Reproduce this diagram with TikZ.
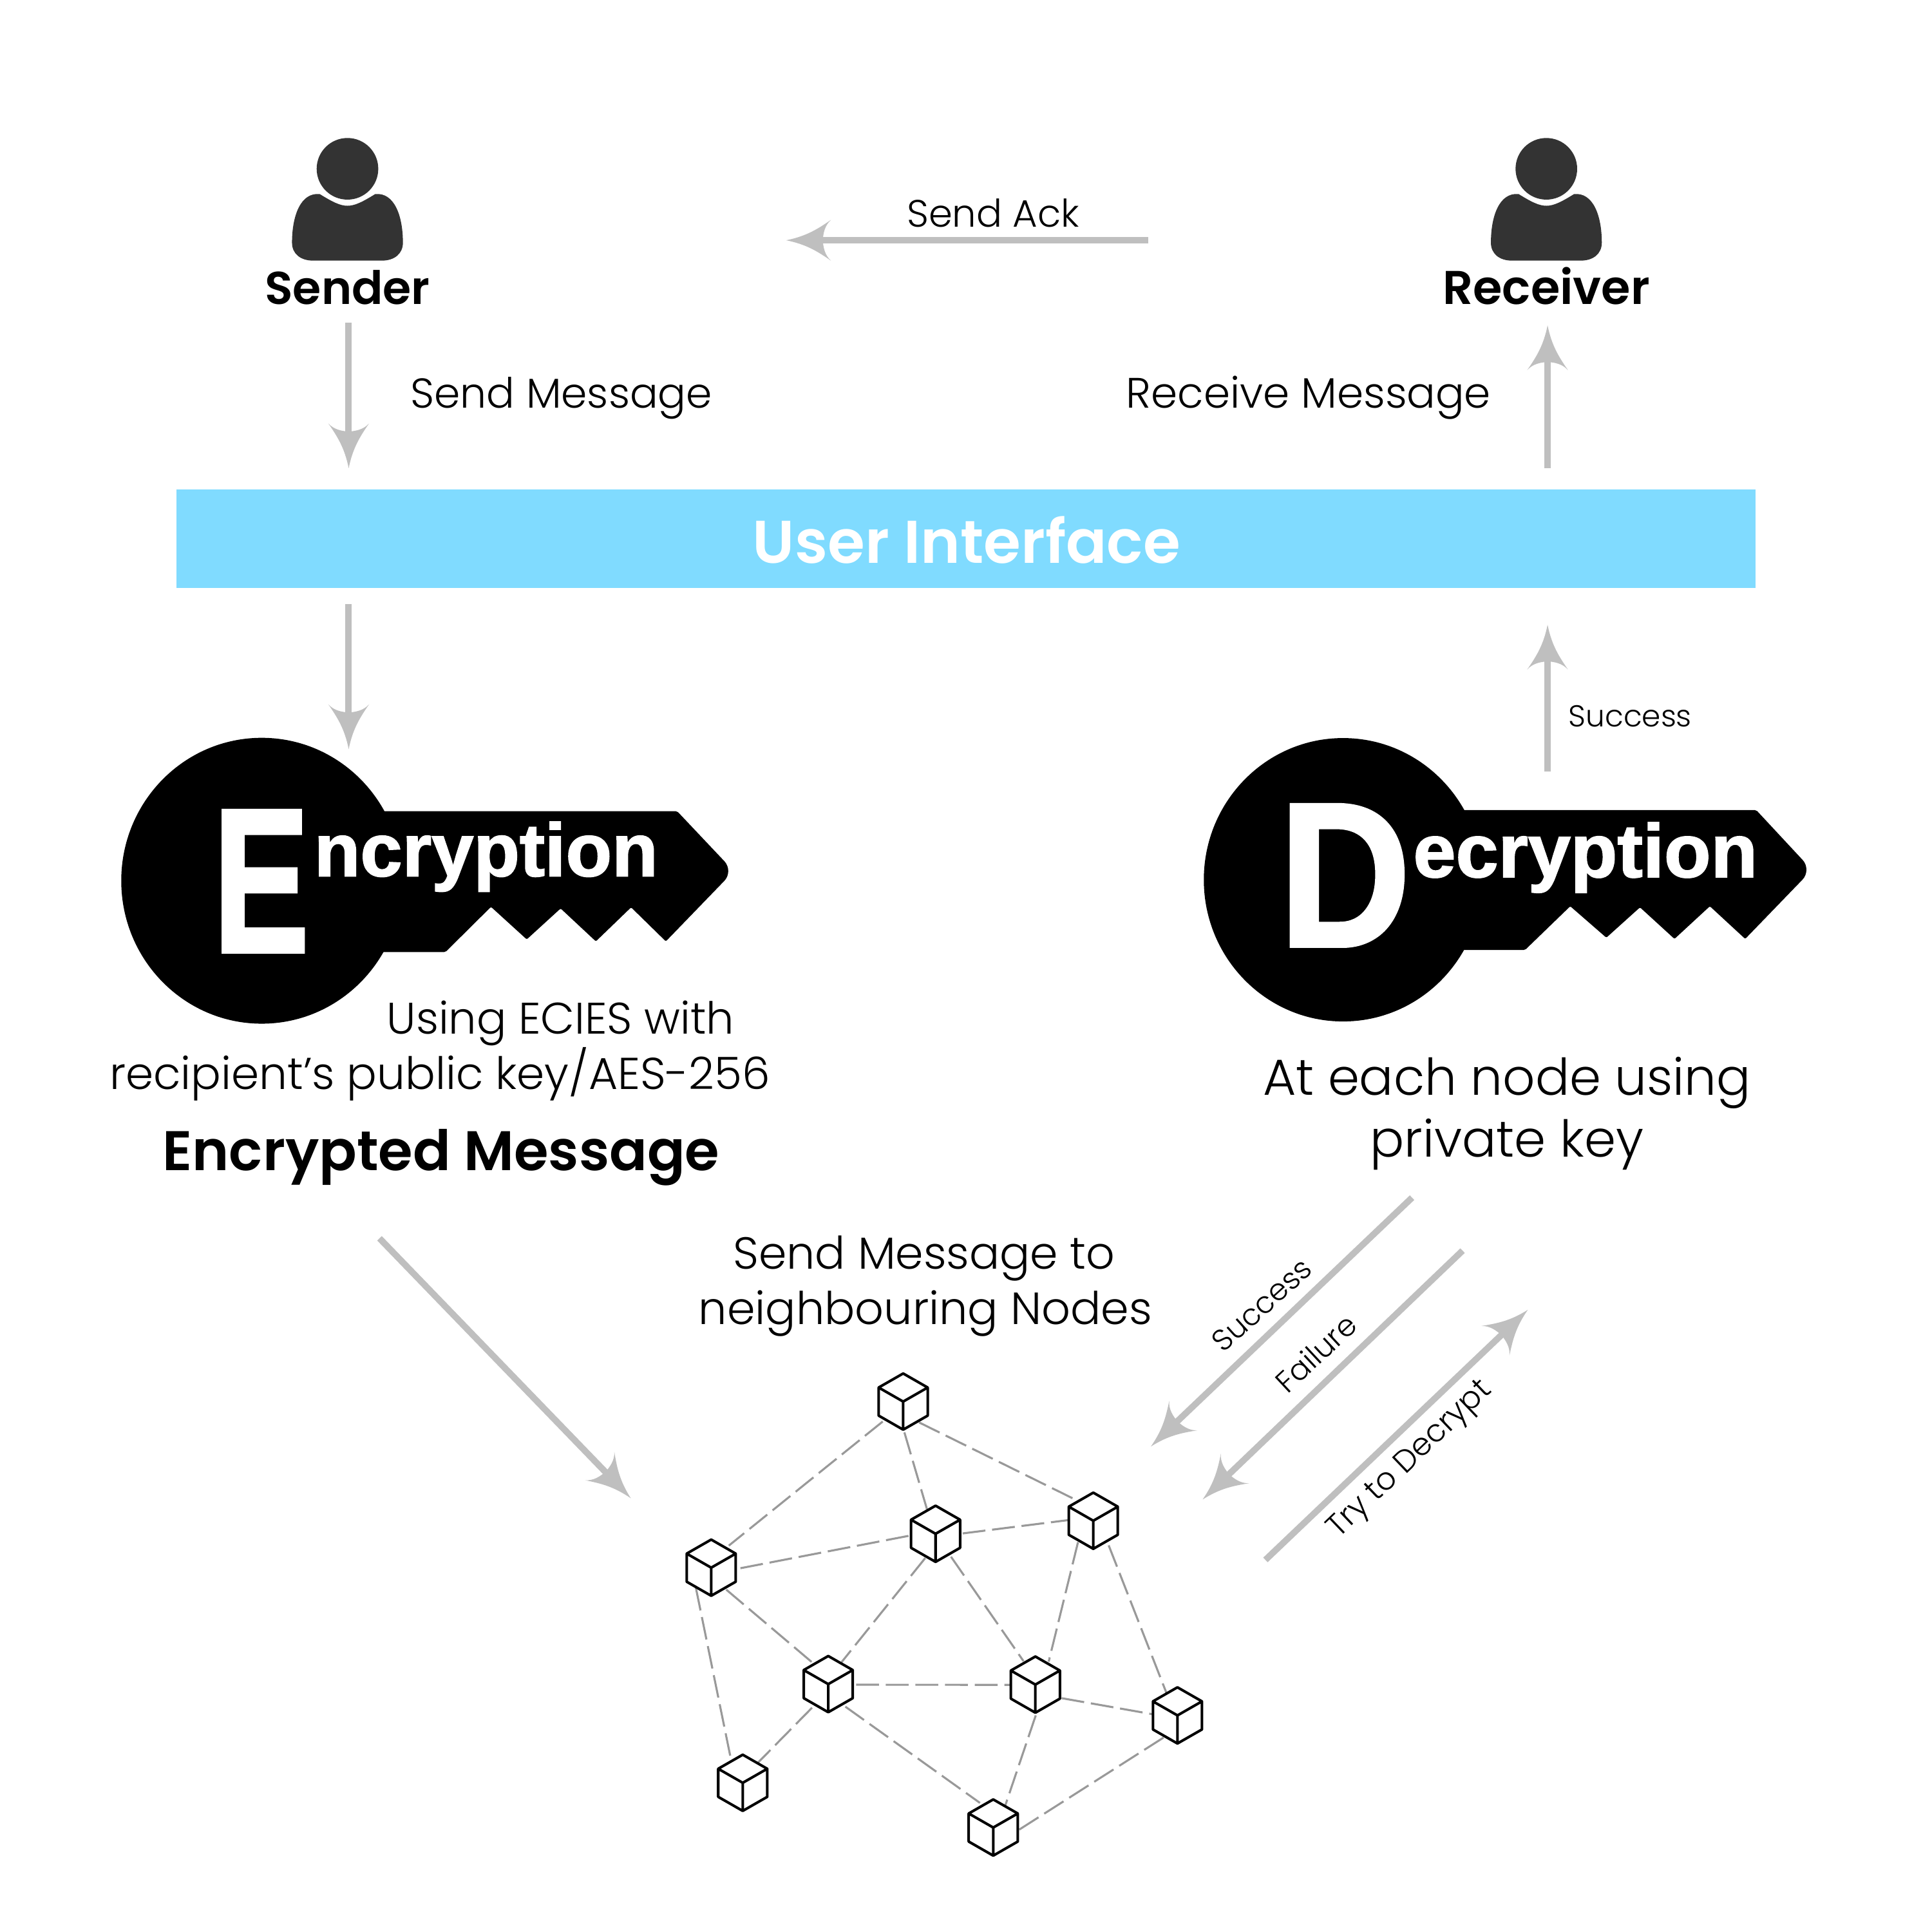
\documentclass[tikz,border=0pt]{standalone}
\usepackage{fontspec}
\usepackage{graphicx}
\usetikzlibrary{arrows.meta}
\setmainfont{Poppins Light}
\newfontfamily\ftbold{Poppins SemiBold}
\newfontfamily\ftlogo{Liberation Sans}[BoldFont={Liberation Sans Bold},BoldFeatures={FakeBold=1.6}]
\newdimen\uu \uu=0.5443pt
\newcommand\fitw[2]{\resizebox{#1\uu}{!}{#2}}
\definecolor{arrowgray}{HTML}{BFBFBF}
\definecolor{edgegray}{HTML}{999999}
\definecolor{banner}{HTML}{80DBFF}
\definecolor{persona}{HTML}{333333}
\pgfdeclarearrow{
  name=Barb,
  setup code={
    \pgfarrowssettipend{0pt}
    \pgfarrowssetlineend{-14pt}
    \pgfarrowssetvisualbackend{-16pt}
    \pgfarrowssetbackend{-19.8pt}
  },
  drawing code={
    \pgfsetfillcolor{arrowgray}
    \pgfpathmoveto{\pgfqpoint{0pt}{0pt}}
    \pgfpathcurveto{\pgfqpoint{-9pt}{1.8pt}}{\pgfqpoint{-14pt}{5pt}}{\pgfqpoint{-19.8pt}{9pt}}
    \pgfpathcurveto{\pgfqpoint{-17pt}{6.5pt}}{\pgfqpoint{-16.4pt}{3pt}}{\pgfqpoint{-16.2pt}{0pt}}
    \pgfpathcurveto{\pgfqpoint{-16.4pt}{-3pt}}{\pgfqpoint{-17pt}{-6.5pt}}{\pgfqpoint{-19.8pt}{-9pt}}
    \pgfpathcurveto{\pgfqpoint{-14pt}{-5pt}}{\pgfqpoint{-9pt}{-1.8pt}}{\pgfqpoint{0pt}{0pt}}
    \pgfpathclose
    \pgfusepathqfill
  }
}
\tikzset{
  conn/.style={color=arrowgray,line width=5.2\uu,-{Barb[]}},
  edge/.style={color=edgegray,line width=1.65\uu,dash pattern=on 10.1pt off 3pt},
  label/.style={inner sep=0pt,anchor=base},
  cubenode/.style={circle,minimum size=50\uu,inner sep=0pt,outer sep=0pt},
  cube/.pic={
    \draw[line width=2.1\uu,line join=round,black]
      (0,-22.8) -- (19.9,-11.4) -- (19.9,11.4) -- (0,22.8) -- (-19.9,11.4) -- (-19.9,-11.4) -- cycle
      (-19.9,-11.4) -- (0,0) -- (19.9,-11.4)
      (0,0) -- (0,22.8);
  },
  person/.pic={
    \fill[persona] (0,0) circle (25);
    \fill[persona] (-22.5,20.5) .. controls (-12,27) and (-6,30) .. (0,30)
      .. controls (6,30) and (12,27) .. (22.5,20.5)
      .. controls (38,19) and (45,38) .. (45,60)
      .. controls (45,69) and (38,74.5) .. (28,74.5)
      -- (-28,74.5)
      .. controls (-38,74.5) and (-45,69) .. (-45,60)
      .. controls (-45,38) and (-38,19) .. (-22.5,20.5) -- cycle;
  }
}
\begin{document}
\begin{tikzpicture}[x=0.5443pt,y=-0.5443pt]
\useasboundingbox (0,0) rectangle (1568,1568);
% people
\pic at (282,137) {person};
\pic at (1255,137) {person};
\node[label] (sender) at (282,247) {\fitw{134}{\ftbold Sender}};
\node[label] (receiver) at (1255,247) {\fitw{168}{\ftbold Receiver}};
% banner
\node[fill=banner,minimum width=1282\uu,minimum height=80\uu,inner sep=0pt] (ui) at (784,437) {};
\node[label,text=white] (uit) at (784.5,457) {\fitw{347}{\ftbold User Interface}};
% keys
\fill[black] (212.4,714.8) ellipse (114 and 116);
\fill[black,rounded corners=0.6] (300,658.4) -- (549.6,658.4) [rounded corners=6] -- (595.5,707) [rounded corners=0.6] -- (540.4,764) -- (512.2,736.4) -- (483.6,764) -- (455,737.3) -- (427.5,762.4) -- (398.5,736) -- (361.5,772.7) -- (300,772.7) -- cycle;
\node[inner sep=0pt,text=white] (ebig) at (212,715.2) {\resizebox*{78\uu}{115\uu}{\ftlogo\bfseries E}};
\node[inner sep=0pt,text=white] (encr) at (394.5,695.3) {\resizebox*{279\uu}{56.6\uu}{\ftlogo\bfseries ncryption}};
\fill[black] (1090,714) ellipse (113 and 115);
\fill[black,rounded corners=0.6] (1175,657.5) -- (1425.4,657.5) [rounded corners=6] -- (1470.5,706) [rounded corners=0.6] -- (1416.4,762) -- (1387.7,735.5) -- (1359,762) -- (1331,736.4) -- (1303.7,761) -- (1274.4,735.5) -- (1237.7,771) -- (1175,771) -- cycle;
\node[inner sep=0pt,text=white] (dbig) at (1091.5,710.5) {\resizebox*{107\uu}{115\uu}{\ftlogo\bfseries D}};
\node[inner sep=0pt,text=white] (decr) at (1286.7,696) {\resizebox*{279.4\uu}{57\uu}{\ftlogo\bfseries ecryption}};
% texts
\node[label] (ack) at (806,184) {\fitw{140}{Send Ack}};
\node[label] (sm) at (455.5,331) {\fitw{245}{Send Message}};
\node[label] (rm) at (1062,331) {\fitw{296}{Receive Message}};
\node[label] (succ1) at (1323,590) {\fitw{100}{Success}};
\node[label] (ecies) at (455,839) {\fitw{282}{Using ECIES with}};
\node[label] (pubkey) at (357,884) {\fitw{536}{recipient’s public key/AES-256}};
\node[label] (encm) at (358,950) {\fitw{452}{\ftbold Encrypted Message}};
\node[label] (each) at (1223,889) {\fitw{396}{At each node using}};
\node[label] (priv) at (1223,939) {\fitw{222}{private key}};
\node[label] (sm2) at (750,1030) {\fitw{310}{Send Message to}};
\node[label] (neigh) at (751,1075) {\fitw{368}{neighbouring Nodes}};
\node[inner sep=0pt,rotate=42] (succ2) at (1024,1059) {\fitw{99}{Success}};
\node[inner sep=0pt,rotate=43] (fail) at (1068,1098) {\fitw{79}{Failure}};
\node[inner sep=0pt,rotate=43.7] (try) at (1145,1185) {\fitw{173}{Try to Decrypt}};
% connector ends
\coordinate (a1) at (283,262); \coordinate (a2) at (283,380);
\coordinate (b1) at (283,490); \coordinate (b2) at (283,608);
\coordinate (c1) at (932,195); \coordinate (c2) at (638,195);
\coordinate (d1) at (1256,380); \coordinate (d2) at (1256,264);
\coordinate (e1) at (1256,626); \coordinate (e2) at (1256,507);
\coordinate (f1) at (308,1005); \coordinate (f2) at (512,1216);
\coordinate (g1) at (1146,972); \coordinate (g2) at (934,1174);
\coordinate (h1) at (1187,1015); \coordinate (h2) at (976,1217);
\coordinate (i1) at (1027,1266); \coordinate (i2) at (1240,1063);
\foreach \p/\q in {a1/a2,b1/b2,c1/c2,d1/d2,e1/e2,f1/f2,g1/g2,h1/h2,i1/i2}
  \draw[conn] (\p) -- (\q);
% network
\node[cubenode] (n1) at (733,1137.5) {};
\node[cubenode] (n2) at (759.3,1244.8) {};
\node[cubenode] (n3) at (887.3,1234.2) {};
\node[cubenode] (n4) at (577.2,1272.3) {};
\node[cubenode] (n5) at (672.2,1366.8) {};
\node[cubenode] (n6) at (840.3,1367.2) {};
\node[cubenode] (n7) at (955.6,1392.2) {};
\node[cubenode] (n8) at (602.8,1446.9) {};
\node[cubenode] (n9) at (806.1,1483.2) {};
\foreach \a/\ax/\ay/\b/\bx/\by in {
  n1/1/25/n2/-7/-20,
  n1/12.9/16.9/n3/-14.3/-17,
  n1/-16.6/16.2/n4/14.3/-17.9,
  n2/22/-0.3/n3/-20.4/-0.5,
  n2/-22/1.7/n4/21.3/0.9,
  n2/-8.4/19.7/n5/10.8/-17.8,
  n2/12.5/18.6/n6/-9.6/-19,
  n3/-12.4/17.4/n6/10.8/-18.6,
  n3/12.5/20/n7/-9/-18.4,
  n4/12.2/17.8/n5/-12.2/-16.9,
  n4/-12.4/16.5/n8/-9.6/-19.2,
  n5/22.6/0.5/n6/-20.6/0.2,
  n5/-13.2/19.2/n8/12.5/-16.5,
  n5/13.9/18.3/n9/-10.8/-20,
  n6/21.3/11/n7/-20.4/-1,
  n6/0.3/25/n9/9.8/-18,
  n7/-11.3/18/n9/20.6/2}
  \draw[edge] ([shift={(\ax,\ay)}]\a.center) -- ([shift={(\bx,\by)}]\b.center);
\foreach \n in {n1,n2,n3,n4,n5,n6,n7,n8,n9}
  \pic at (\n) {cube};
\end{tikzpicture}
\end{document}
